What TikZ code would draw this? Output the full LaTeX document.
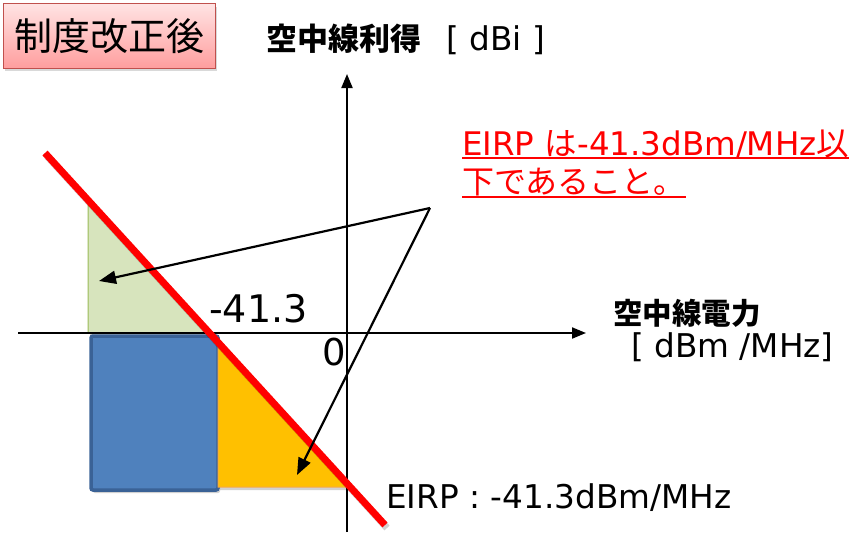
\documentclass[tikz,border=0pt]{standalone}
\usepackage{fontspec}
\setmainfont{DejaVu Sans}
\newfontfamily\cjk{Noto Sans CJK JP}
\usetikzlibrary{arrows.meta,shadows}
\definecolor{lgreen}{HTML}{D7E4BD}
\definecolor{greenline}{HTML}{9BBB59}
\definecolor{blueA}{HTML}{4F81BD}
\definecolor{blueline}{HTML}{3A6296}
\definecolor{orangeA}{HTML}{FFC000}
\definecolor{orangeline}{HTML}{F5A94A}
\definecolor{pinkTop}{HTML}{FFE3E3}
\definecolor{pinkBot}{HTML}{FF9E9E}
\definecolor{pinkline}{HTML}{C0504D}
\begin{document}
\begin{tikzpicture}[x=1pt,y=-1pt,
  axis/.style={line width=2pt,-{Triangle[length=14pt,width=11pt]}},
  ptr/.style={line width=2.2pt,-{Triangle[length=17pt,width=13pt]}},
  lbl/.style={inner sep=0pt,font=\fontsize{32.7}{38}\selectfont},
  big/.style={inner sep=0pt,font=\fontsize{38}{44}\selectfont},
  redlbl/.style={inner sep=0pt,text=red,font=\fontsize{32.5}{38}\selectfont},
  shade/.style={black,opacity=0.18}]
\useasboundingbox (0,0) rectangle (866,535);

% title box
\node[draw=pinkline,line width=1pt,top color=pinkTop,bottom color=pinkBot,
  drop shadow={shadow xshift=2pt,shadow yshift=-3pt,opacity=0.3},
  minimum width=212pt,minimum height=64pt,inner sep=0pt,
  font=\cjk\fontsize{38}{42}\selectfont] (title) at (109,36) {制度改正後};

% region coordinates
\coordinate (g1) at (88,200);
\coordinate (g2) at (88,333);
\coordinate (g3) at (210,333);
\coordinate (b1) at (91,336);
\coordinate (b2) at (218,490);
\coordinate (o1) at (218,342);
\coordinate (o2) at (218,487);
\coordinate (o3) at (350,487);

% shadows
\fill[shade] ([shift={(2,3)}]g1) -- ([shift={(2,3)}]g2) -- ([shift={(2,3)}]g3) -- cycle;
\fill[shade,rounded corners=2pt] ([shift={(2,3)}]b1) rectangle ([shift={(2,3)}]b2);
\fill[shade] ([shift={(2,3)}]o1) -- ([shift={(2,3)}]o2) -- ([shift={(2,3)}]o3) -- cycle;

% green triangle
\filldraw[fill=lgreen,draw=greenline,line width=1pt] (g1) -- (g2) -- (g3) -- cycle;
% blue rectangle
\filldraw[fill=blueA,draw=blueline,line width=3.5pt,rounded corners=2pt] (b1) rectangle (b2);
% orange triangle
\filldraw[fill=orangeA,draw=orangeline,line width=1pt] (o1) -- (o2) -- (o3) -- cycle;

% axes
\coordinate (xs) at (18,333);
\coordinate (xe) at (586,333);
\coordinate (ys) at (347,532);
\coordinate (ye) at (347,74);
\draw[axis] (xs) -- (xe);
\draw[axis] (ys) -- (ye);

% red EIRP line
\coordinate (r1) at (45,153);
\coordinate (r2) at (385,525);
\draw[shade,line width=7pt] ([shift={(2,3)}]r1) -- ([shift={(2,3)}]r2);
\draw[red,line width=7pt] (r1) -- (r2);

% labels
\node[inner sep=0pt,anchor=base west,font=\cjk\bfseries\fontsize{31}{36}\selectfont] (ylab) at (266,50) {空中線利得};
\node[lbl,anchor=base west] (yunit) at (446,50) {[ dBi ]};
\node[inner sep=0pt,anchor=base west,font=\cjk\bfseries\fontsize{29.5}{34}\selectfont] (xlab) at (613,324) {空中線電力};
\node[lbl,anchor=base west] (xunit) at (631,357) {[ dBm /MHz]};
\node[big,anchor=base west] (m413) at (209,322) {-41.3};
\node[inner sep=0pt,font=\fontsize{37}{42}\selectfont,anchor=base east] (zero) at (346,365) {0};
\node[lbl,anchor=base west] (eirp) at (386,508) {EIRP : -41.3dBm/MHz};

% red note
\node[redlbl,anchor=base west] (note1) at (462,155) {EIRP {\cjk は}-41.3dBm/MHz{\cjk 以}};
\node[redlbl,anchor=base west,font=\cjk\fontsize{32}{38}\selectfont] (note2) at (462,193) {下であること。};
\draw[red,line width=1.5pt] ([yshift=-3pt]note1.base west) -- ([yshift=-3pt]note1.base east);
\draw[red,line width=1.5pt] ([yshift=-4pt]note2.base west) -- ([yshift=-4pt]note2.base east);

% pointers
\coordinate (src) at (430,208);
\coordinate (t1) at (99,281);
\coordinate (t2) at (297,475);
\draw[ptr] (src) -- (t1);
\draw[ptr] (src) -- (t2);
\end{tikzpicture}
\end{document}
